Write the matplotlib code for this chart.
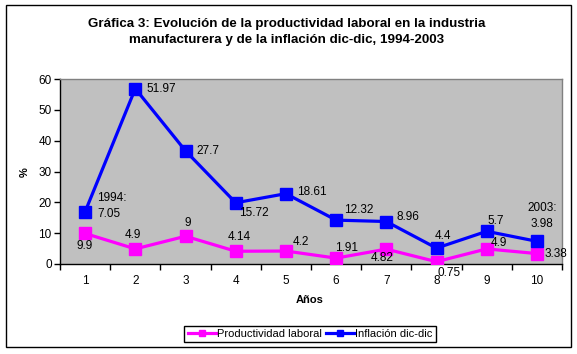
import matplotlib
matplotlib.use('Agg')
import matplotlib.pyplot as plt
import numpy as np
from matplotlib.patches import Rectangle

plt.rcParams['font.family'] = ['Liberation Sans', 'DejaVu Sans']

# data
years = [1, 2, 3, 4, 5, 6, 7, 8, 9, 10]
productividad = [9.9, 4.9, 9, 4.14, 4.2, 1.91, 4.82, 0.75, 4.9, 3.38]
inflacion = [7.05, 51.97, 27.7, 15.72, 18.61, 12.32, 8.96, 4.4, 5.7, 3.98]
infl_labels = ['1994:\n7.05', '51.97', '27.7', '15.72', '18.61', '12.32', '8.96', '4.4', '5.7', '2003:\n3.98']
prod_labels = ['9.9', '4.9', '9', '4.14', '4.2', '1.91', '4.82', '0.75', '4.9', '3.38']

# label offsets in pixels (dx, dy, ha)
infl_off = [(12, 6, 'left'), (11, 0, 'left'), (11, 0, 'left'), (3, -10, 'left'), (11, 2, 'left'),
            (8, 10, 'left'), (10, 5, 'left'), (6, 12, 'center'), (1, 10, 'left'), (5, 25, 'center')]
prod_off = [(0, -13, 'center'), (-2, 14, 'center'), (2, 13, 'center'), (4, 14, 'center'), (7, 9, 'left'),
            (10, 10, 'center'), (-4, -9, 'center'), (13, -11, 'center'), (12, 6, 'center'), (8, 0, 'left')]

# Excel stacked line chart: second series sits on top of the first
prod = np.array(productividad)
infl_stacked = prod + np.array(inflacion)

fig = plt.figure(figsize=(5.77, 3.54), dpi=100)
fig.patch.set_facecolor('white')
fig.patches.append(Rectangle((6/577, 1-347/354), 565/577, 342/354, transform=fig.transFigure,
                             fill=False, edgecolor='black', linewidth=1.0))

ax = fig.add_axes([60/577, 1-264/354, 502/577, 185/354])
ax.set_facecolor('#C0C0C0')

l1, = ax.plot(years, prod, color='#FF00FF', linewidth=2.3, marker='s', markersize=9,
              label='Productividad laboral', zorder=3)
l2, = ax.plot(years, infl_stacked, color='#0000FF', linewidth=2.3, marker='s', markersize=9,
              label='Inflación dic-dic', zorder=3)

for x, y, txt, (dx, dy, ha) in zip(years, infl_stacked, infl_labels, infl_off):
    ax.annotate(txt, (x, y), xytext=(dx, dy), textcoords='offset pixels', ha=ha, va='center',
                fontsize=8.5, linespacing=1.45, zorder=4)
for x, y, txt, (dx, dy, ha) in zip(years, prod, prod_labels, prod_off):
    ax.annotate(txt, (x, y), xytext=(dx, dy), textcoords='offset pixels', ha=ha, va='center',
                fontsize=8.5, zorder=4)

ax.set_xlim(0.5, 10.5)
ax.set_ylim(0, 60)
ax.set_yticks(range(0, 61, 10))
ax.set_xticks(np.arange(0.5, 11, 1))
ax.set_xticklabels([])
ax.set_xticks(years, minor=True)
ax.set_xticklabels([str(y) for y in years], minor=True)
ax.tick_params(axis='x', which='major', direction='out', length=4, width=1)
ax.tick_params(axis='x', which='minor', length=0, pad=8, labelsize=8.5)
ax.tick_params(axis='y', direction='out', length=4, width=1, pad=2, labelsize=8.5)

for s in ['top', 'right']:
    ax.spines[s].set_color('#808080')
    ax.spines[s].set_linewidth(1)
for s in ['left', 'bottom']:
    ax.spines[s].set_color('black')
    ax.spines[s].set_linewidth(1)

fig.text(287/577, 1-32/354, 'Gráfica 3: Evolución de la productividad laboral en la industria\n'
         'manufacturera y de la inflación dic-dic, 1994-2003',
         ha='center', va='center', fontsize=9.6, fontweight='bold', linespacing=1.35)
fig.text(310/577, 1-300/354, 'Años', ha='center', va='center', fontsize=8, fontweight='bold')
fig.text(25/577, 1-172/354, '%', ha='center', va='center', fontsize=8, fontweight='bold', rotation=90)

leg = fig.legend(handles=[l1, l2], loc='center', bbox_to_anchor=(310/577, 1-334/354), ncol=2,
                 fontsize=8, frameon=True, fancybox=False, edgecolor='black', framealpha=1,
                 handlelength=2.5, handletextpad=0.1, columnspacing=0.4, markerscale=0.45,
                 borderpad=0.3, borderaxespad=0)
leg.get_frame().set_linewidth(1)

fig.savefig('out.png', dpi=100)
